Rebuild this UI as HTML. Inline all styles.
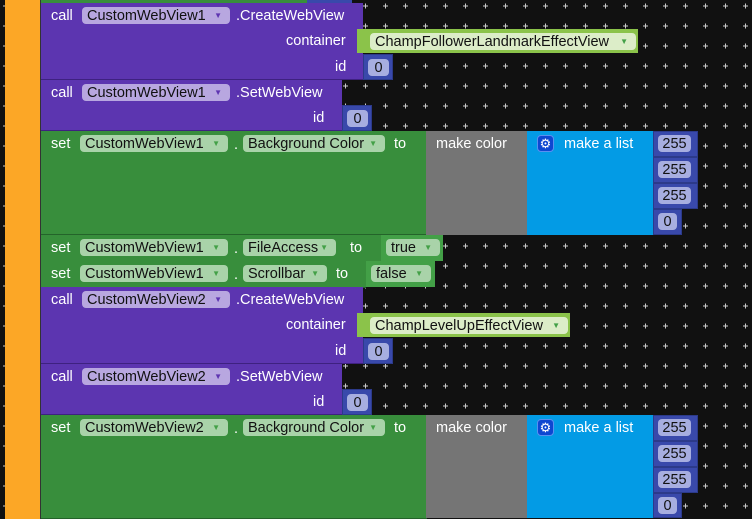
<!DOCTYPE html>
<html><head><meta charset="utf-8"><style>
*{margin:0;padding:0;box-sizing:border-box}
body{width:752px;height:519px;overflow:hidden;background:#111;position:relative;font-family:"Liberation Sans",sans-serif;font-size:14.5px}
.a{position:absolute}
.t{position:absolute;color:#fff;line-height:17px;white-space:nowrap}
.pl{position:absolute;height:17px;border-radius:4px;color:#111;line-height:18px;padding-left:5px;white-space:nowrap}
.pp{background:#b8a7e0}.pg{background:#a9d3a9}.ps{background:#dcedc8}.pn{background:#a7aee0;text-align:center;padding-left:0}
.ar{font-size:8px;position:absolute;right:8px;top:0;line-height:17px}
.pp .ar{color:#5e35b1}.pg .ar,.ps .ar{color:#43a047}
.pur{background:#5c35b0;border-bottom:1px solid #3e2180}
.grn{background:#388e3c;border-bottom:1px solid #24632a}
.num{background:#3949ab;border:1px solid #2c3a8a}
.str{background:#8bc34a}
.lg{background:#43a047}
.gear{position:absolute;width:17px;height:17px;background:#0d47d1;border:1px solid #5a8ff0;border-radius:4px;color:#fff;font-size:13px;line-height:15px;text-align:center}
</style></head><body>
<svg class="a" style="left:0;top:0" width="752" height="519">
<defs><pattern id="g" x="0" y="0" width="20" height="20" patternUnits="userSpaceOnUse">
<path d="M3 6h5M5.5 3.5v5" stroke="#ccc" stroke-width="1"/></pattern></defs>
<rect width="752" height="519" fill="url(#g)"/>
</svg>
<div class="a" style="left:5px;top:0;width:35px;height:519px;background:#fca726"></div>
<div class="a" style="left:40px;top:0;width:1px;height:519px;background:#333"></div>
<div class="a" style="left:41px;top:0;width:266px;height:3px;background:#388e3c"></div>
<div class="a" style="left:307px;top:0;width:45px;height:5px;background:#3949ab"></div>

<!-- block1 -->
<div class="a pur" style="left:41px;top:3px;width:322px;height:77px"></div>
<div class="t" style="left:51px;top:8px">call</div>
<div class="pl pp" style="left:82px;top:7px;width:148px">CustomWebView1<span class="ar">▼</span></div>
<div class="t" style="left:236px;top:8px">.CreateWebView</div>
<div class="t" style="left:286px;top:33px">container</div>
<div class="a str" style="left:357px;top:29px;width:281px;height:24px"></div>
<div class="pl ps" style="left:370px;top:33px;width:266px">ChampFollowerLandmarkEffectView<span class="ar">▼</span></div>
<div class="t" style="left:335px;top:59px">id</div>
<div class="a num" style="left:363px;top:54px;width:30px;height:26px"></div>
<div class="pl pn" style="left:368px;top:59px;width:21px">0</div>

<!-- block2 -->
<div class="a pur" style="left:41px;top:80px;width:301px;height:51px"></div>
<div class="t" style="left:51px;top:85px">call</div>
<div class="pl pp" style="left:82px;top:84px;width:148px">CustomWebView1<span class="ar">▼</span></div>
<div class="t" style="left:236px;top:85px">.SetWebView</div>
<div class="t" style="left:313px;top:110px">id</div>
<div class="a num" style="left:342px;top:105px;width:30px;height:26px"></div>
<div class="pl pn" style="left:347px;top:110px;width:21px">0</div>

<!-- block3 -->
<div class="a grn" style="left:41px;top:131px;width:386px;height:104px"></div>
<div class="t" style="left:51px;top:136px">set</div>
<div class="pl pg" style="left:80px;top:135px;width:148px">CustomWebView1<span class="ar">▼</span></div>
<div class="t" style="left:234px;top:137px">.</div>
<div class="pl pg" style="left:243px;top:135px;width:142px">Background Color<span class="ar">▼</span></div>
<div class="t" style="left:394px;top:136px">to</div>
<div class="a" style="left:426px;top:131px;width:101px;height:104px;background:#757575"></div>
<div class="t" style="left:436px;top:136px">make color</div>
<div class="a" style="left:527px;top:131px;width:126px;height:104px;background:#039be5"></div>
<div class="gear" style="left:537px;top:135px">⚙</div>
<div class="t" style="left:564px;top:136px">make a list</div>
<div class="a num" style="left:653px;top:131px;width:45px;height:26px"></div>
<div class="pl pn" style="left:658px;top:135px;width:33px">255</div>
<div class="a num" style="left:653px;top:157px;width:45px;height:26px"></div>
<div class="pl pn" style="left:658px;top:161px;width:33px">255</div>
<div class="a num" style="left:653px;top:183px;width:45px;height:26px"></div>
<div class="pl pn" style="left:658px;top:187px;width:33px">255</div>
<div class="a num" style="left:653px;top:209px;width:29px;height:26px"></div>
<div class="pl pn" style="left:658px;top:213px;width:19px">0</div>

<!-- block4 -->
<div class="a grn" style="left:41px;top:235px;width:342px;height:27px"></div>
<div class="t" style="left:51px;top:240px">set</div>
<div class="pl pg" style="left:80px;top:239px;width:148px">CustomWebView1<span class="ar">▼</span></div>
<div class="t" style="left:234px;top:241px">.</div>
<div class="pl pg" style="left:243px;top:239px;width:93px">FileAccess<span class="ar">▼</span></div>
<div class="t" style="left:350px;top:240px">to</div>
<div class="a lg" style="left:381px;top:235px;width:62px;height:26px"></div>
<div class="pl pg" style="left:386px;top:239px;width:54px">true<span class="ar">▼</span></div>

<!-- block5 -->
<div class="a grn" style="left:41px;top:261px;width:325px;height:27px"></div>
<div class="t" style="left:51px;top:266px">set</div>
<div class="pl pg" style="left:80px;top:265px;width:148px">CustomWebView1<span class="ar">▼</span></div>
<div class="t" style="left:234px;top:267px">.</div>
<div class="pl pg" style="left:243px;top:265px;width:84px">Scrollbar<span class="ar">▼</span></div>
<div class="t" style="left:336px;top:266px">to</div>
<div class="a lg" style="left:366px;top:261px;width:69px;height:26px"></div>
<div class="pl pg" style="left:371px;top:265px;width:60px">false<span class="ar">▼</span></div>

<!-- block6 -->
<div class="a pur" style="left:41px;top:287px;width:322px;height:77px"></div>
<div class="t" style="left:51px;top:292px">call</div>
<div class="pl pp" style="left:82px;top:291px;width:148px">CustomWebView2<span class="ar">▼</span></div>
<div class="t" style="left:236px;top:292px">.CreateWebView</div>
<div class="t" style="left:286px;top:317px">container</div>
<div class="a str" style="left:357px;top:313px;width:213px;height:24px"></div>
<div class="pl ps" style="left:370px;top:317px;width:198px">ChampLevelUpEffectView<span class="ar">▼</span></div>
<div class="t" style="left:335px;top:343px">id</div>
<div class="a num" style="left:363px;top:338px;width:30px;height:26px"></div>
<div class="pl pn" style="left:368px;top:343px;width:21px">0</div>

<!-- block7 -->
<div class="a pur" style="left:41px;top:364px;width:301px;height:51px"></div>
<div class="t" style="left:51px;top:369px">call</div>
<div class="pl pp" style="left:82px;top:368px;width:148px">CustomWebView2<span class="ar">▼</span></div>
<div class="t" style="left:236px;top:369px">.SetWebView</div>
<div class="t" style="left:313px;top:394px">id</div>
<div class="a num" style="left:342px;top:389px;width:30px;height:26px"></div>
<div class="pl pn" style="left:347px;top:394px;width:21px">0</div>

<!-- block8 -->
<div class="a grn" style="left:41px;top:415px;width:386px;height:104px"></div>
<div class="t" style="left:51px;top:420px">set</div>
<div class="pl pg" style="left:80px;top:419px;width:148px">CustomWebView2<span class="ar">▼</span></div>
<div class="t" style="left:234px;top:421px">.</div>
<div class="pl pg" style="left:243px;top:419px;width:142px">Background Color<span class="ar">▼</span></div>
<div class="t" style="left:394px;top:420px">to</div>
<div class="a" style="left:426px;top:415px;width:101px;height:103px;background:#757575"></div>
<div class="t" style="left:436px;top:420px">make color</div>
<div class="a" style="left:527px;top:415px;width:126px;height:103px;background:#039be5"></div>
<div class="gear" style="left:537px;top:419px">⚙</div>
<div class="t" style="left:564px;top:420px">make a list</div>
<div class="a num" style="left:653px;top:415px;width:45px;height:26px"></div>
<div class="pl pn" style="left:658px;top:419px;width:33px">255</div>
<div class="a num" style="left:653px;top:441px;width:45px;height:26px"></div>
<div class="pl pn" style="left:658px;top:445px;width:33px">255</div>
<div class="a num" style="left:653px;top:467px;width:45px;height:26px"></div>
<div class="pl pn" style="left:658px;top:471px;width:33px">255</div>
<div class="a num" style="left:653px;top:493px;width:29px;height:25px"></div>
<div class="pl pn" style="left:658px;top:497px;width:19px">0</div>
</body></html>
